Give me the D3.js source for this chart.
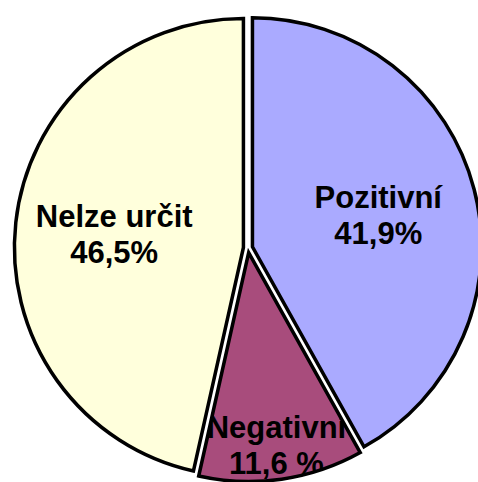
<!DOCTYPE html>
<html>
<head>
<meta charset="utf-8">
<script src="https://cdn.jsdelivr.net/npm/d3@7"></script>
<style>
  body { margin: 0; background: #fff; }
  svg { display: block; }
</style>
</head>
<body>
<script>
// slice data, clockwise from 12 o'clock
var categories = ["Pozitivní", "Negativní", "Nelze určit"];
var values = [41.9, 11.6, 46.5];
var valueLabels = ["41,9%", "11,6 %", "46,5%"];
var colors = ["#aaaaff", "#a84c7c", "#ffffdc"];

var width = 478, height = 482;
var cx = 248, cy = 248,
    radius = 229,
    explode = 4.6;

var svg = d3.select("body").append("svg")
    .attr("width", width)
    .attr("height", height);

var g = svg.append("g")
    .attr("transform", "translate(" + cx + "," + cy + ")");

var data = categories.map(function(c, i) {
    return {key: c, value: values[i], label: valueLabels[i], color: colors[i]};
});

var pie = d3.pie()
    .sort(null)
    .value(function(d) { return d.value; });

var arc = d3.arc().innerRadius(0).outerRadius(radius);

// small slice gets its label pushed further out
function labelRadius(d) {
    return d.data.value < 20 ? 193 : 130;
}

function mid(d) { return (d.startAngle + d.endAngle) / 2; }

var arcs = pie(data);

var slice = g.selectAll(".slice")
    .data(arcs)
    .enter()
    .append("g")
    .attr("class", "slice")
    .attr("transform", function(d) {
        var a = mid(d);
        return "translate(" + (explode * Math.sin(a)) + "," + (-explode * Math.cos(a)) + ")";
    });

// clip the text to its own wedge, the way the original cuts it off
slice.append("clipPath")
    .attr("id", function(d, i) { return "clip" + i; })
    .append("path")
    .attr("d", arc);

slice.append("path")
    .attr("d", arc)
    .attr("fill", function(d) { return d.data.color; });

var txt = slice.append("text")
    .attr("clip-path", function(d, i) { return "url(#clip" + i + ")"; })
    .attr("text-anchor", "middle")
    .attr("font-family", "'Liberation Sans', Arial, Helvetica, sans-serif")
    .attr("font-weight", "bold")
    .attr("font-size", "31px")
    .attr("fill", "#000");

txt.append("tspan")
    .attr("x", function(d) { return labelRadius(d) * Math.sin(mid(d)); })
    .attr("y", function(d) { return -labelRadius(d) * Math.cos(mid(d)) - 6; })
    .text(function(d) { return d.data.key; });

txt.append("tspan")
    .attr("x", function(d) { return labelRadius(d) * Math.sin(mid(d)); })
    .attr("y", function(d) { return -labelRadius(d) * Math.cos(mid(d)) + 30; })
    .text(function(d) { return d.data.label; });

// outlines on top of the labels
slice.append("path")
    .attr("d", arc)
    .attr("fill", "none")
    .attr("stroke", "#000")
    .attr("stroke-width", 3.5)
    .attr("stroke-linejoin", "miter");
</script>
</body>
</html>
